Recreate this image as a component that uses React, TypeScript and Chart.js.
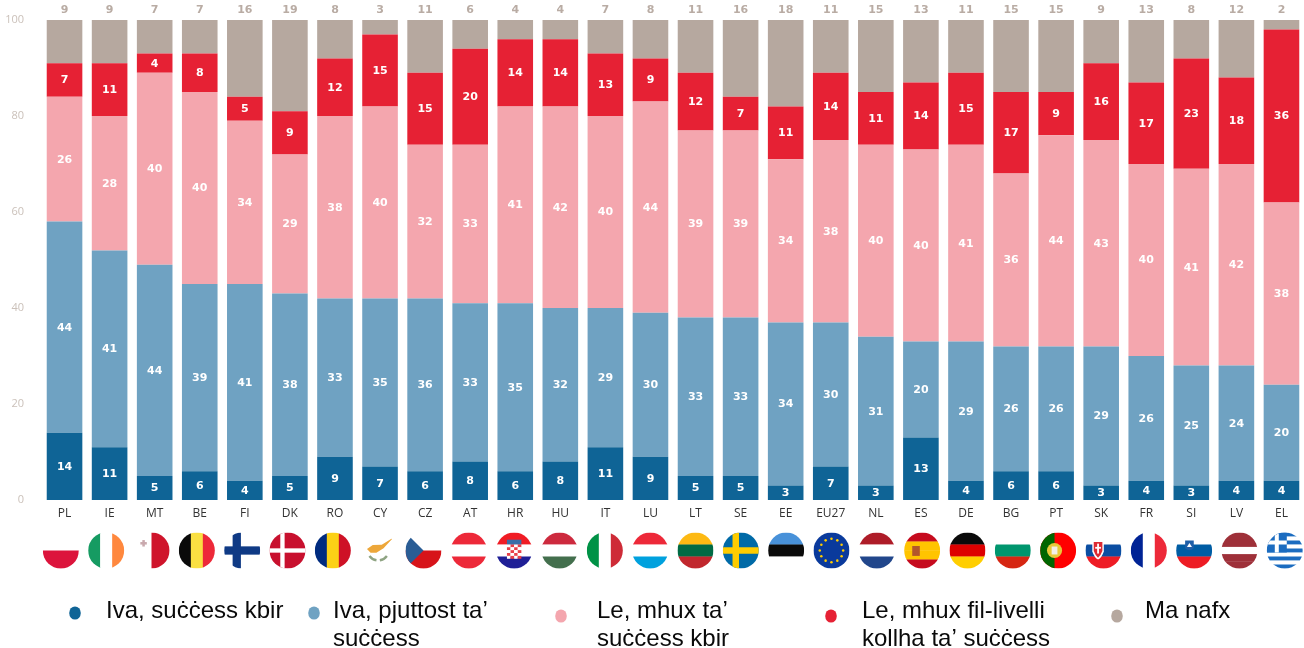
import React, { useEffect, useRef } from "react";
import { Chart, registerables } from "chart.js";

Chart.register(...registerables);

const categories = ["PL","IE","MT","BE","FI","DK","RO","CY","CZ","AT","HR","HU","IT","LU","LT","SE","EE","EU27","NL","ES","DE","BG","PT","SK","FR","SI","LV","EL"];
const yesGreat = [14,11,5,6,4,5,9,7,6,8,6,8,11,9,5,5,3,7,3,13,4,6,6,3,4,3,4,4];
const yesSomewhat = [44,41,44,39,41,38,33,35,36,33,35,32,29,30,33,33,34,30,31,20,29,26,26,29,26,25,24,20];
const noNotGreat = [26,28,40,40,34,29,38,40,32,33,41,42,40,44,39,39,34,38,40,40,41,36,44,43,40,41,42,38];
const noNotAtAll = [7,11,4,8,5,9,12,15,15,20,14,14,13,9,12,7,11,14,11,14,15,17,9,16,17,23,18,36];
const dontKnow = [9,9,7,7,16,19,8,3,11,6,4,4,7,8,11,16,18,11,15,13,11,15,15,9,13,8,12,2];
const seriesNames = ["Iva, suċċess kbir","Iva, pjuttost ta’ suċċess","Le, mhux ta’ suċċess kbir","Le, mhux fil-livelli kollha ta’ suċċess","Ma nafx"];
const seriesColors = ["#0f6496","#6fa2c2","#f4a6ae","#e62134","#b6a89f"];
const yTicks = [0,20,40,60,80,100];
const legendRows = [
  { color: 0, dotX: 75, dotY: 613, textX: 106, lines: ["Iva, suċċess kbir"] },
  { color: 1, dotX: 314, dotY: 613, textX: 333, lines: ["Iva, pjuttost ta’", "suċċess"] },
  { color: 2, dotX: 561, dotY: 616, textX: 597, lines: ["Le, mhux ta’", "suċċess kbir"] },
  { color: 3, dotX: 831, dotY: 616, textX: 862, lines: ["Le, mhux fil-livelli", "kollha ta’ suċċess"] },
  { color: 4, dotX: 1117, dotY: 616, textX: 1145, lines: ["Ma nafx"] },
];

type C = CanvasRenderingContext2D;

function hb(c: C, r: number, colors: string[]) {
  colors.forEach((col, i) => {
    c.fillStyle = col;
    c.fillRect(-r, -r + (2 * r * i) / colors.length, 2 * r, (2 * r) / colors.length + 0.3);
  });
}
function vb(c: C, r: number, colors: string[]) {
  colors.forEach((col, i) => {
    c.fillStyle = col;
    c.fillRect(-r + (2 * r * i) / colors.length, -r, (2 * r) / colors.length + 0.3, 2 * r);
  });
}
function cross(c: C, r: number, bg: string, fg: string, vx: number, t: number) {
  c.fillStyle = bg;
  c.fillRect(-r, -r, 2 * r, 2 * r);
  c.fillStyle = fg;
  c.fillRect(-r, -t / 2, 2 * r, t);
  c.fillRect(vx - t / 2, -r, t, 2 * r);
}
function drawFlag(c: C, code: string, r: number) {
  const W = "#ffffff";
  switch (code) {
    case "PL": hb(c, r, [W, "#dc143c"]); break;
    case "IE": vb(c, r, ["#169b62", W, "#ff883e"]); break;
    case "MT":
      vb(c, r, [W, "#cf142b"]);
      c.fillStyle = "#c9a9ae";
      c.fillRect(-r * 0.62, -r * 0.47, r * 0.36, r * 0.14);
      c.fillRect(-r * 0.51, -r * 0.58, r * 0.14, r * 0.36);
      break;
    case "BE": vb(c, r, ["#0a0a0a", "#fae042", "#ed2939"]); break;
    case "FI": cross(c, r, W, "#0f3a85", -r * 0.3, r * 0.46); break;
    case "DK": cross(c, r, "#c8102e", W, -r * 0.28, r * 0.24); break;
    case "RO": vb(c, r, ["#002b7f", "#fcd116", "#ce1126"]); break;
    case "CY":
      c.fillStyle = "#eda73a";
      c.beginPath();
      c.moveTo(-r * 0.62, -r * 0.08);
      c.lineTo(-r * 0.3, -r * 0.3);
      c.lineTo(r * 0.2, -r * 0.32);
      c.lineTo(r * 0.85, -r * 0.72);
      c.lineTo(r * 0.3, -r * 0.12);
      c.lineTo(-r * 0.1, r * 0.12);
      c.lineTo(-r * 0.42, r * 0.12);
      c.closePath();
      c.fill();
      c.strokeStyle = "#8fa483";
      c.lineWidth = r * 0.13;
      c.beginPath();
      c.arc(0, -r * 0.05, r * 0.6, Math.PI * 0.2, Math.PI * 0.45);
      c.stroke();
      c.beginPath();
      c.arc(0, -r * 0.05, r * 0.6, Math.PI * 0.55, Math.PI * 0.8);
      c.stroke();
      break;
    case "CZ":
      hb(c, r, [W, "#d7141a"]);
      c.fillStyle = "#2a5d95";
      c.beginPath();
      c.moveTo(-r, -r);
      c.lineTo(0, 0);
      c.lineTo(-r, r);
      c.closePath();
      c.fill();
      break;
    case "AT": hb(c, r, ["#ed2939", W, "#ed2939"]); break;
    case "HR": {
      hb(c, r, ["#f01c24", W, "#1f1f96"]);
      const s = r * 0.2;
      for (let row = 0; row < 5; row++) {
        for (let col = 0; col < 4; col++) {
          c.fillStyle = (row + col) % 2 ? "#e8404a" : "#ffffff";
          c.fillRect(-2 * s + col * s, -r * 0.34 + row * s * 0.8, s, s * 0.8);
        }
      }
      c.fillStyle = "#3a6ea8";
      c.fillRect(-2 * s, -r * 0.6, 4 * s, r * 0.26);
      break;
    }
    case "HU": hb(c, r, ["#cd2a3e", W, "#436f4d"]); break;
    case "IT": vb(c, r, ["#009246", W, "#ce2b37"]); break;
    case "LU": hb(c, r, ["#ed2939", W, "#00a1de"]); break;
    case "LT": hb(c, r, ["#fdb913", "#006a44", "#c1272d"]); break;
    case "SE": cross(c, r, "#006aa7", "#fecc00", -r * 0.28, r * 0.36); break;
    case "EE": hb(c, r, ["#4891d9", "#0a0a0a", W]); break;
    case "EU27":
      c.fillStyle = "#0a3a9c";
      c.fillRect(-r, -r, 2 * r, 2 * r);
      c.fillStyle = "#ffcc00";
      for (let k = 0; k < 12; k++) {
        const a = (k * Math.PI) / 6;
        c.beginPath();
        c.arc(Math.cos(a) * r * 0.65, Math.sin(a) * r * 0.65, r * 0.07, 0, Math.PI * 2);
        c.fill();
      }
      break;
    case "NL": hb(c, r, ["#ae1c28", W, "#21468b"]); break;
    case "ES":
      hb(c, r, ["#c60b1e", "#ffc400", "#ffc400", "#c60b1e"]);
      c.fillStyle = "#b3562c";
      c.fillRect(-r * 0.55, -r * 0.25, r * 0.42, r * 0.55);
      break;
    case "DE": hb(c, r, ["#0a0a0a", "#dd0000", "#ffce00"]); break;
    case "BG": hb(c, r, [W, "#00966e", "#d62612"]); break;
    case "PT":
      c.fillStyle = "#ff0000";
      c.fillRect(-r, -r, 2 * r, 2 * r);
      c.fillStyle = "#006600";
      c.fillRect(-r, -r, r * 0.8, 2 * r);
      c.fillStyle = "#e9c93a";
      c.beginPath();
      c.arc(-r * 0.2, 0, r * 0.42, 0, Math.PI * 2);
      c.fill();
      c.fillStyle = "#f3f0e8";
      c.fillRect(-r * 0.36, -r * 0.22, r * 0.32, r * 0.44);
      break;
    case "SK":
      hb(c, r, [W, "#0b4ea2", "#ee1c25"]);
      c.fillStyle = W;
      c.beginPath();
      c.moveTo(-r * 0.62, -r * 0.55);
      c.lineTo(r * 0.02, -r * 0.55);
      c.lineTo(r * 0.02, r * 0.05);
      c.quadraticCurveTo(-r * 0.1, r * 0.4, -r * 0.3, r * 0.5);
      c.quadraticCurveTo(-r * 0.5, r * 0.4, -r * 0.62, r * 0.05);
      c.closePath();
      c.fill();
      c.fillStyle = "#dd2a33";
      c.beginPath();
      c.moveTo(-r * 0.54, -r * 0.47);
      c.lineTo(-r * 0.06, -r * 0.47);
      c.lineTo(-r * 0.06, r * 0.03);
      c.quadraticCurveTo(-r * 0.16, r * 0.3, -r * 0.3, r * 0.4);
      c.quadraticCurveTo(-r * 0.44, r * 0.3, -r * 0.54, r * 0.03);
      c.closePath();
      c.fill();
      c.fillStyle = W;
      c.fillRect(-r * 0.35, -r * 0.38, r * 0.1, r * 0.55);
      c.fillRect(-r * 0.46, -r * 0.2, r * 0.32, r * 0.1);
      break;
    case "FR": vb(c, r, ["#002395", W, "#ed2939"]); break;
    case "SI":
      hb(c, r, [W, "#005da4", "#ed1c24"]);
      c.fillStyle = "#1f5fa8";
      c.beginPath();
      c.moveTo(-r * 0.5, -r * 0.55);
      c.lineTo(-r * 0.02, -r * 0.55);
      c.lineTo(-r * 0.02, -r * 0.12);
      c.quadraticCurveTo(-r * 0.26, r * 0.1, -r * 0.5, -r * 0.12);
      c.closePath();
      c.fill();
      c.fillStyle = W;
      c.beginPath();
      c.moveTo(-r * 0.4, -r * 0.2);
      c.lineTo(-r * 0.26, -r * 0.42);
      c.lineTo(-r * 0.12, -r * 0.2);
      c.closePath();
      c.fill();
      break;
    case "LV": hb(c, r, ["#9e3039", "#9e3039", W, "#9e3039", "#9e3039"]); break;
    case "EL": {
      const blue = "#1b6cc0";
      const stripes = [blue, W, blue, W, blue, W, blue, W, blue];
      hb(c, r, stripes);
      const h = (2 * r * 5) / 9;
      c.fillStyle = blue;
      c.fillRect(-r, -r, h, h);
      c.fillStyle = W;
      c.fillRect(-r, -r + h * 0.4, h, h * 0.2);
      c.fillRect(-r + h * 0.4, -r, h * 0.2, h);
      break;
    }
  }
}

const decorations = {
  id: "decorations",
  afterDatasetsDraw(chart: any) {
    const c: C = chart.ctx;
    const last = chart.data.datasets.length - 1;
    c.save();
    c.textAlign = "center";
    c.textBaseline = "middle";
    c.font = "bold 11px 'DejaVu Sans'";
    chart.data.datasets.forEach((ds: any, d: number) => {
      const meta = chart.getDatasetMeta(d);
      meta.data.forEach((el: any, i: number) => {
        if (d === last) {
          c.fillStyle = "#b9aca4";
          c.fillText(String(ds.data[i]), el.x, el.y - 9.5);
        } else {
          c.fillStyle = "#ffffff";
          c.fillText(String(ds.data[i]), el.x, (el.y + el.base) / 2 + 0.5);
        }
      });
    });
    c.restore();

    // flags, placed under their categories
    const xs = chart.scales.x;
    categories.forEach((code, i) => {
      const cx = xs.getPixelForValue(i) - 3.7 + i * 0.26;
      const cy = 550.5;
      const r = 18;
      c.save();
      c.translate(cx, cy);
      c.beginPath();
      c.arc(0, 0, r, 0, Math.PI * 2);
      c.clip();
      drawFlag(c, code, r);
      c.restore();
    });

    // legend
    c.save();
    legendRows.forEach((row) => {
      c.fillStyle = seriesColors[row.color];
      c.beginPath();
      c.ellipse(row.dotX, row.dotY, 5.8, 6.6, 0, 0, Math.PI * 2);
      c.fill();
      c.fillStyle = "#0a0a0a";
      c.font = "24px 'Liberation Sans'";
      c.textAlign = "left";
      c.textBaseline = "alphabetic";
      row.lines.forEach((t, k) => c.fillText(t, row.textX, 618 + k * 28));
    });
    c.restore();
  },
};

export default function App() {
  const ref = useRef<HTMLCanvasElement>(null);
  useEffect(() => {
    const allSeries = [yesGreat, yesSomewhat, noNotGreat, noNotAtAll, dontKnow];
    const chart = new Chart(ref.current as HTMLCanvasElement, {
      type: "bar",
      data: {
        labels: categories,
        datasets: allSeries.map((data, i) => ({
          label: seriesNames[i],
          data,
          backgroundColor: seriesColors[i],
          barPercentage: 0.79,
          categoryPercentage: 1,
        })),
      },
      options: {
        animation: false,
        responsive: false,
        layout: { padding: { top: 20, left: 0, right: 0, bottom: 0 } },
        plugins: { legend: { display: false }, tooltip: { enabled: false } },
        scales: {
          x: {
            stacked: true,
            grid: { display: false },
            border: { display: false },
            ticks: { color: "#333333", font: { family: "'Open Sans'", size: 12 }, padding: -2, maxRotation: 0, autoSkip: false },
            afterFit: (s: any) => { s.height = 148; },
          },
          y: {
            stacked: true,
            min: 0,
            max: 100,
            grid: { display: false },
            border: { display: false },
            afterBuildTicks: (s: any) => { s.ticks = yTicks.map((value) => ({ value })); },
            ticks: { color: "#cbc1ba", font: { family: "'Open Sans'", size: 11 }, padding: 10 },
            afterFit: (s: any) => { s.width = 42; },
          },
        },
      },
      plugins: [decorations],
    } as any);
    return () => chart.destroy();
  }, []);
  return (
    <canvas
      ref={ref}
      width={1304}
      height={648}
      style={{ position: "fixed", left: 0, top: 0, display: "block", background: "#ffffff", filter: "blur(0.4px)" }}
    />
  );
}
